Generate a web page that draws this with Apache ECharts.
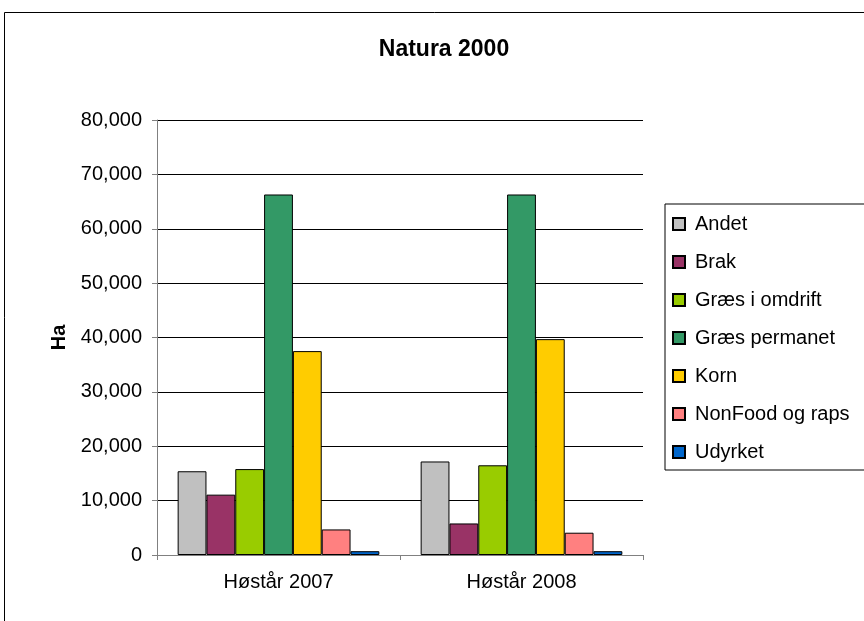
<!DOCTYPE html>
<html>
<head>
<meta charset="utf-8">
<script src="https://cdn.jsdelivr.net/npm/echarts@6/dist/echarts.min.js"></script>
<style>
	html, body { margin: 0; padding: 0; background: #fff; }
	#natura { width: 864px; height: 621px; }
</style>
</head>
<body>
<div id="natura"></div>
<script>
	// aar / kategorier
	var years = ['Høstår 2007', 'Høstår 2008'];
	var crops = ['Andet', 'Brak', 'Græs i omdrift', 'Græs permanet', 'Korn', 'NonFood og raps', 'Udyrket'];
	var cropColors = ['#C0C0C0', '#993366', '#99CC00', '#339966', '#FFCC00', '#FF8080', '#0066CC'];

	// Ha pr. afgroede, [2007, 2008]
	var andet = [15400, 17200];
	var brak = [11100, 5800];
	var graesOmdrift = [15800, 16500];
	var graesPermanet = [66300, 66300];
	var korn = [37500, 39700];
	var nonFood = [4700, 4100];
	var udyrket = [700, 700];

	var cropValues = [andet, brak, graesOmdrift, graesPermanet, korn, nonFood, udyrket];
	var yTicks = [0, 10000, 20000, 30000, 40000, 50000, 60000, 70000, 80000];

	var font = 'Arial, "Liberation Sans", sans-serif';

	var chart = echarts.init(document.getElementById('natura'));
	chart.setOption({
		backgroundColor: '#fff',
		animation: false,
		textStyle: { fontFamily: font },
		title: {
			text: 'Natura 2000',
			left: 439,
			textAlign: 'center',
			top: 33,
			textStyle: { fontSize: 23, fontWeight: 'bold', color: '#000', fontFamily: font }
		},
		graphic: [{
			type: 'rect',
			shape: { x: 4.5, y: 12.5, width: 900, height: 700 },
			style: { fill: 'none', stroke: '#000', lineWidth: 1 },
			silent: true,
			z: -1
		}],
		legend: {
			orient: 'vertical',
			left: 665,
			top: 204,
			padding: [10, 30, 8, 7],
			itemWidth: 12,
			itemHeight: 12,
			itemGap: 18,
			icon: 'rect',
			borderColor: '#000',
			borderWidth: 1,
			data: crops,
			textStyle: { fontSize: 20, color: '#000', fontFamily: font, padding: [0, 0, 0, 5], lineHeight: 20 }
		},
		grid: { left: 157, right: 221, top: 120, bottom: 66, containLabel: false },
		xAxis: {
			type: 'category',
			data: years,
			axisLine: { lineStyle: { color: '#808080', width: 1 } },
			axisTick: { show: true, length: 5, lineStyle: { color: '#808080' } },
			axisLabel: { fontSize: 20, color: '#000', margin: 17, fontFamily: font }
		},
		yAxis: {
			type: 'value',
			min: 0,
			max: yTicks[yTicks.length - 1],
			interval: yTicks[1] - yTicks[0],
			name: 'Ha',
			nameLocation: 'middle',
			nameGap: 82,
			nameRotate: 90,
			nameTextStyle: { fontSize: 20, fontWeight: 'bold', color: '#000', fontFamily: font },
			axisLine: { show: true, lineStyle: { color: '#808080', width: 1 } },
			axisTick: { show: true, length: 5, lineStyle: { color: '#808080' } },
			axisLabel: {
				fontSize: 20, color: '#000', margin: 15, fontFamily: font,
				formatter: function (v) { return v.toLocaleString('en-US'); }
			},
			splitLine: { lineStyle: { color: '#000', width: 1 } }
		},
		series: crops.map(function (name, i) {
			return {
				name: name,
				type: 'bar',
				data: cropValues[i],
				barGap: '0%',
				barCategoryGap: '17%',
				itemStyle: { color: cropColors[i], borderColor: '#000', borderWidth: 1 }
			};
		})
	});
</script>
</body>
</html>
